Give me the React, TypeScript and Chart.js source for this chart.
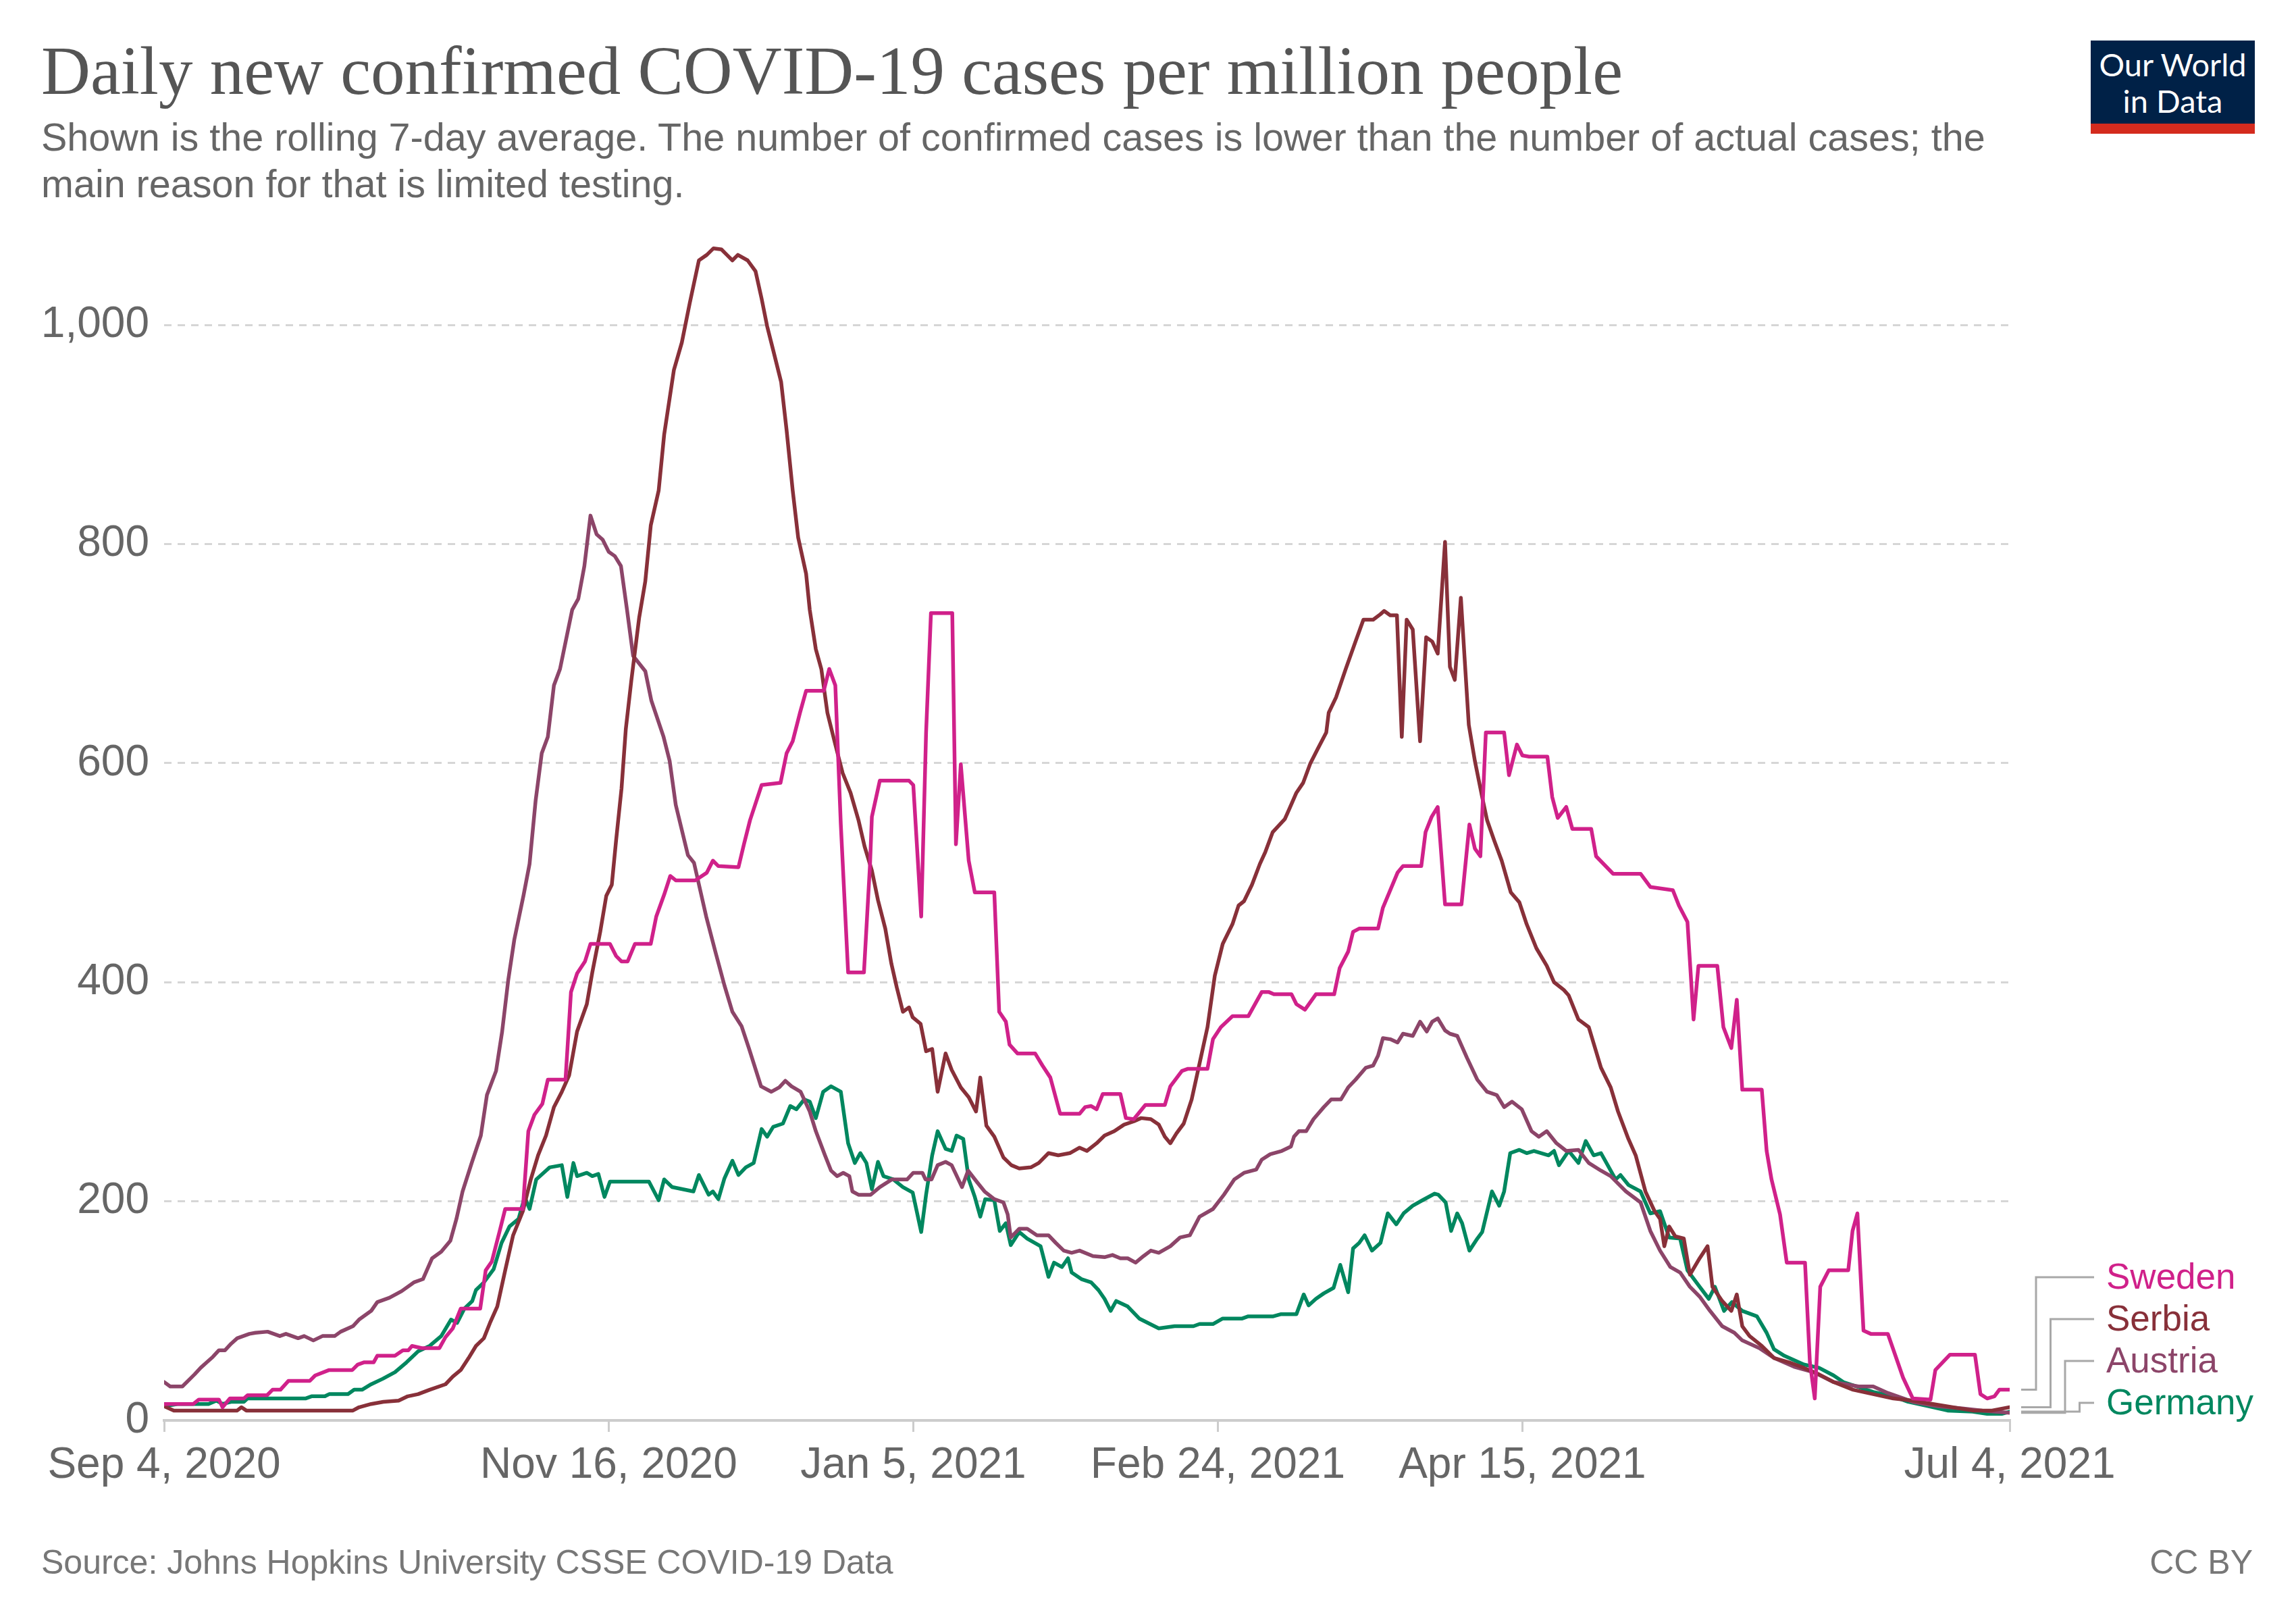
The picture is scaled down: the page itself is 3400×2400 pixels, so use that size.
import React, { useEffect, useRef } from "react";
import { Chart, registerables } from "chart.js";

Chart.register(...registerables);

// Day offsets from Sep 4, 2020
const tickDays = [0, 73, 123, 173, 223, 303];
const tickLabels = ["Sep 4, 2020", "Nov 16, 2020", "Jan 5, 2021", "Feb 24, 2021", "Apr 15, 2021", "Jul 4, 2021"];
const yTicks = [0, 200, 400, 600, 800, 1000];

const countries = ["Sweden", "Serbia", "Austria", "Germany"];
const countryColors = ["#D0218A", "#883039", "#8C4569", "#00875F"];

const sweden: [number, number][] = [
  [0,15],[4.8,15],[5.7,19],[9,19],[9.6,12],[10.8,20],[13.1,20],[13.7,23],[16.9,23],[17.8,28],[19.1,28],[20.4,36],[23.9,36],[24.8,41],[27.1,46],[30.9,46],[31.8,51],[32.8,53],[34.4,53],[35,59],[37.9,59],[39.2,64],[40.1,64],[40.7,68],[42.3,66],[45.2,66],[46.2,76],[47.4,84],[48.7,102],[51.9,102],[52.8,137],[53.8,145],[55.1,173],[56,193],[58.9,193],[59.8,264],[60.8,279],[62.1,289],[63,311],[65.9,311],[66.8,391],[67.8,408],[69.1,419],[70,435],[73.2,435],[74.2,424],[75.1,419],[76.1,419],[77.3,435],[79.9,435],[80.8,460],[82.1,480],[83.1,497],[84,493],[87.2,493],[89.1,500],[90.1,511],[91,506],[94.3,505],[95.2,526],[96.2,548],[98.1,580],[101.2,582],[102.2,609],[103.2,620],[104.4,646],[105.4,666],[108.3,666],[109.2,686],[110.2,671],[111.1,544],[112.3,409],[114.9,409],[115.9,508],[116.2,551],[117.5,584],[122.3,584],[123,580],[124.3,460],[125.1,628],[125.9,737],[129.4,737],[130,526],[130.8,599],[132.1,511],[133.1,482],[136.3,482],[137.1,373],[138.2,364],[138.8,343],[140.1,335],[143,335],[144.2,324],[145.5,313],[147.1,280],[150.3,280],[151.2,286],[152.2,287],[153.1,284],[154.1,298],[157,298],[157.9,276],[159.2,275],[161.1,288],[164.3,288],[165.2,305],[167.1,319],[168.1,321],[171.3,321],[172.2,348],[173.5,359],[175.4,369],[178,369],[180.2,391],[181.4,391],[182.2,389],[185.1,389],[185.9,380],[187.3,375],[189.1,389],[192.1,389],[193,413],[194.4,428],[195.2,446],[196.2,449],[199.3,449],[200.1,468],[202.5,500],[203.4,506],[206.4,506],[207.1,537],[208.1,551],[209.1,560],[210.3,471],[213,471],[214.3,544],[215.2,522],[216.1,515],[217,628],[220,628],[220.8,589],[222.1,617],[223,607],[224.1,606],[227.1,606],[227.9,569],[228.8,550],[230.2,560],[231.2,540],[234.3,540],[235.1,515],[237.9,499],[242.4,499],[244,487],[247.7,484],[248.7,470],[250.1,455],[251.1,366],[251.9,415],[255,415],[256,359],[257.3,340],[258.2,384],[259.1,302],[262.3,302],[263.1,246],[263.9,220],[265.3,188],[266.4,144],[269.4,144],[270.2,53],[271,20],[271.9,122],[273.3,137],[276.5,137],[277.2,173],[278,189],[279,82],[280.2,79],[283,79],[285.5,39],[287.1,20],[290,19],[290.8,46],[293.2,60],[297.3,60],[298.2,24],[299.3,20],[300.5,22],[301.3,28],[303,28]
];

const serbia: [number, number][] = [
  [0,13],[1.6,9],[12,9],[12.7,12],[13.5,9],[31,9],[32,12],[34,15],[36,17],[38.5,18],[40,22],[41.7,24],[43.6,28],[46.2,33],[47.4,40],[48.7,46],[50,57],[51.2,68],[52.5,75],[53.5,89],[54.7,104],[56,137],[57.3,169],[58.9,191],[60.2,220],[61.4,242],[62.7,260],[64,286],[65.3,300],[66.5,315],[67.8,355],[69.4,380],[70.3,409],[71.6,446],[72.6,479],[73.5,489],[74.2,529],[75.1,577],[75.8,631],[76.7,675],[78,733],[79,766],[79.9,817],[81.2,849],[82.1,900],[83.7,959],[85,984],[86.3,1020],[87.8,1059],[89.1,1064],[90.2,1070],[91.5,1069],[92.4,1064],[93.3,1059],[94.2,1064],[95.8,1059],[97.1,1049],[98.1,1024],[99,999],[100,977],[101.3,948],[102.2,904],[103.2,849],[104.1,806],[105.4,773],[106,740],[107,704],[107.9,686],[108.9,646],[110.2,617],[111.4,591],[112.7,573],[114,548],[115,524],[116.2,502],[117.2,475],[118.4,449],[119.4,417],[120.3,395],[121.3,373],[122.3,377],[122.9,368],[124.2,362],[125.1,337],[126.1,339],[127,300],[128.3,335],[129.3,320],[130.8,304],[132.1,295],[133.3,282],[134,313],[135,269],[136.3,259],[137.8,240],[139.1,233],[140.4,230],[142.3,231],[143.6,235],[145.2,244],[146.8,242],[148.7,244],[150.3,249],[151.5,246],[153.1,253],[154.4,260],[156,264],[157.6,270],[159.2,273],[160.4,276],[162,275],[163.3,270],[164.3,259],[165.2,253],[166.2,262],[167.4,271],[168.7,293],[170,326],[171.3,359],[172.5,406],[173.8,435],[175.4,453],[176.4,470],[177.3,474],[178.6,489],[179.9,508],[180.8,519],[182,537],[184,549],[184.8,559],[185.9,573],[187,582],[188.2,600],[189.4,613],[190.8,628],[191.2,646],[192.4,660],[194,686],[195.6,711],[196.9,731],[198.5,731],[199.7,736],[200.3,739],[201.3,735],[202.4,735],[203.2,624],[204,731],[205,722],[206.2,620],[207.2,715],[208.2,711],[209.1,700],[210.3,802],[211.1,688],[211.9,676],[212.9,751],[213.5,697],[214.2,635],[215.2,602],[216.4,569],[217.2,548],[218.4,529],[219.6,511],[221.1,482],[222.5,473],[223.7,453],[225.3,431],[227,415],[228.2,400],[229.8,393],[230.6,388],[232.2,366],[233.9,359],[235.9,322],[237.5,304],[238.7,282],[240.4,257],[241.6,242],[243.2,209],[244.7,191],[245.6,184],[246.3,159],[247.1,177],[248.1,168],[249.5,166],[250.5,133],[252.1,148],[253.4,159],[254.2,122],[255.8,109],[257.3,100],[258.2,115],[259.1,86],[260.3,77],[262.3,68],[264.3,57],[266.8,53],[269.2,48],[271.7,42],[274.1,35],[277.3,28],[280.6,24],[283.9,20],[287.1,18],[290.4,15],[293.6,12],[296.9,9],[300.1,9],[303,12]
];

const austria: [number, number][] = [
  [0,35],[1,31],[3,31],[5,42],[6,48],[7,53],[8,58],[9,64],[10,64],[11,70],[12,75],[14,79],[15,80],[17,81],[19,77],[20,79],[22,75],[23,77],[24.5,73],[26,77],[28,77],[29,81],[31,86],[32,92],[34,100],[35,108],[37,112],[39,118],[41,126],[42.5,129],[44,148],[45.5,154],[47,164],[48,184],[49,209],[50.5,235],[52,260],[53,297],[54.5,319],[55.5,355],[56.5,402],[57.5,439],[59,479],[60,508],[61,566],[62,609],[63,624],[64,671],[65,686],[67,740],[68,750],[69,780],[70,826],[71,809],[72,804],[73,793],[74,789],[75,780],[76,740],[77,698],[79,684],[80,657],[82,624],[83,602],[84,562],[86,516],[87,509],[89,460],[90.5,428],[92,397],[93.3,373],[94.8,360],[96,340],[98,305],[99.7,300],[101,304],[102,310],[103,305],[104.5,300],[106,282],[107,264],[108.5,242],[109.5,228],[110.5,223],[111.5,226],[112.5,223],[113,209],[114,206],[116,206],[117.5,213],[119.5,220],[122,220],[123,226],[124.5,226],[125,220],[126,220],[127,233],[128.3,236],[129.3,233],[131,213],[132,228],[133.4,218],[134.7,209],[136.3,202],[137.8,199],[138.5,188],[139,167],[140.4,175],[141.7,175],[143.3,169],[145.2,169],[146.4,162],[147.7,155],[149,153],[150.3,155],[152.5,150],[154.4,149],[155.7,151],[157,148],[158.2,148],[159.5,144],[160.8,150],[162,155],[163.3,153],[165.2,159],[166.8,167],[168.4,169],[170,186],[172.2,193],[174,206],[175.7,220],[177.3,226],[179.3,229],[180.2,238],[181.6,243],[183.5,246],[185,250],[185.5,259],[186.3,264],[187.5,264],[188.7,275],[190.4,286],[191.6,293],[193.2,293],[194.4,304],[195.6,311],[197.3,322],[198.5,324],[199.3,333],[200.1,349],[201.3,348],[202.5,345],[203.4,353],[205,351],[206.2,364],[207.3,355],[208.2,364],[209.1,367],[210.3,356],[211.1,353],[212.3,351],[213.9,331],[215.6,311],[217.2,300],[218.8,297],[220,286],[221.3,291],[222.9,284],[224.5,264],[225.7,259],[227,264],[228.6,253],[230.2,246],[232.2,247],[233.9,235],[235.9,228],[237.5,223],[240,209],[242.4,199],[244,173],[245.6,155],[247.3,140],[248.9,135],[250.5,122],[252.1,113],[253.8,100],[255.8,86],[257.8,80],[259.1,73],[261.9,66],[264.3,57],[267.6,49],[270.8,44],[274.1,35],[278.2,31],[280.6,31],[283,25],[287.1,17],[291.2,13],[295.2,11],[298.5,9],[303,7]
];

const germany: [number, number][] = [
  [0,13],[2.2,15],[7.3,15],[8.6,18],[9.6,15],[11.1,17],[13.1,17],[13.7,20],[23.2,20],[24.2,22],[26.4,22],[27.1,24],[30.2,24],[31.2,28],[32.5,28],[34,33],[35.9,38],[37.9,44],[39.8,53],[41.7,63],[43.6,68],[45.5,77],[47.1,92],[48.1,89],[49.3,102],[50.6,109],[51.2,119],[52.5,126],[54.1,138],[55.4,162],[56.7,177],[58.2,184],[59.2,204],[60,193],[61.1,220],[62.7,228],[63.3,231],[65.3,233],[66.2,204],[67.2,235],[67.8,223],[69.4,226],[70.3,223],[71.3,225],[72.3,204],[73.2,218],[74.5,218],[79.6,218],[81.2,201],[82.1,220],[83.4,213],[86.9,209],[87.8,224],[89.4,206],[90.1,209],[91,202],[92,221],[93.3,237],[94.3,224],[95.5,231],[96.8,235],[98.1,266],[99,259],[100,268],[101.6,271],[102.8,287],[103.8,284],[105.1,293],[106,291],[107,276],[108.2,300],[109.5,305],[111.1,300],[112.3,253],[113.4,235],[114.3,244],[115.3,235],[116.2,211],[117.2,236],[118.1,223],[119.7,220],[121.3,213],[122.9,208],[124.3,172],[125.1,206],[126.1,242],[127,264],[128.3,248],[129.3,246],[130.1,260],[131.2,257],[132.1,220],[133.1,204],[134,186],[134.8,202],[136.3,201],[137.2,173],[138.2,180],[139,160],[140.4,172],[141.7,166],[143.9,159],[145.2,131],[146.1,144],[147.4,140],[148.4,148],[149,135],[150.6,129],[152.2,126],[153.4,119],[154.4,111],[155.4,100],[156.3,109],[158.2,104],[160.1,93],[163.3,84],[165.9,86],[169,86],[170,88],[172.2,88],[173.8,93],[177,93],[178,95],[182.1,95],[183.4,97],[185.9,97],[187.1,115],[187.9,105],[189.1,111],[190.4,116],[192,121],[193.1,142],[194.4,117],[195.2,157],[196.2,162],[197.1,169],[198.3,155],[199.7,162],[200.9,189],[202.3,179],[203.5,189],[205,196],[206.6,201],[208.6,207],[209.2,206],[210.4,199],[211.3,173],[212.3,189],[213.1,180],[214.3,155],[215.6,166],[216.4,172],[218,209],[219.2,196],[220,209],[221,244],[222.5,247],[223.7,244],[224.9,246],[227.3,242],[228.2,246],[229,233],[230.6,246],[232.2,235],[233.4,255],[234.7,242],[235.9,244],[238.3,220],[239.1,224],[240.4,215],[242.4,209],[244,189],[245.6,191],[247.1,167],[248.9,166],[250.1,137],[252.1,122],[253.6,111],[254.6,122],[256.1,100],[257.4,108],[259.1,100],[261.5,95],[263.1,80],[264.3,65],[266,59],[269.2,51],[271.7,48],[274.1,41],[275.7,35],[280.6,26],[283.9,22],[286.3,17],[289.6,13],[292.8,9],[296.9,8],[299.3,6],[301.7,6],[303,8]
];

const seriesData = [sweden, serbia, austria, germany];

const SANS = '"Liberation Sans", Arial, Helvetica, sans-serif';

const legendPlugin = {
  id: "lineLabels",
  afterDatasetsDraw(chart: any) {
    const { ctx, chartArea, scales } = chart;
    const y = scales.y;
    const right = chartArea.right;
    const bottomLabelY = y.getPixelForValue(0) - 26;
    const spacing = 62;
    const n = countries.length;
    ctx.save();
    countries.forEach((name, i) => {
      const data = seriesData[i];
      const last = data[data.length - 1][1];
      const yEnd = y.getPixelForValue(last);
      const labelY = bottomLabelY - (n - 1 - i) * spacing;
      const elbowX = right + 39 + i * 21.5;
      ctx.strokeStyle = "#a8a8a8";
      ctx.lineWidth = 3;
      ctx.beginPath();
      ctx.moveTo(right + 17, yEnd);
      ctx.lineTo(elbowX, yEnd);
      ctx.lineTo(elbowX, labelY);
      ctx.lineTo(right + 125, labelY);
      ctx.stroke();
      ctx.fillStyle = countryColors[i];
      ctx.font = `53px ${SANS}`;
      ctx.textAlign = "left";
      ctx.textBaseline = "alphabetic";
      ctx.fillText(name, right + 143, labelY + 17);
    });
    ctx.restore();
  },
};

function CovidChart() {
  const ref = useRef<HTMLCanvasElement | null>(null);
  useEffect(() => {
    if (!ref.current) return;
    const chart = new Chart(ref.current, {
      type: "line",
      data: {
        datasets: countries.map((name, i) => ({
          label: name,
          data: seriesData[i].map(([x, v]) => ({ x, y: v })),
          borderColor: countryColors[i],
          backgroundColor: countryColors[i],
          borderWidth: 5.5,
          pointRadius: 0,
          pointHoverRadius: 0,
          tension: 0,
          borderJoinStyle: "round" as const,
          borderCapStyle: "round" as const,
          fill: false,
        })),
      },
      options: {
        animation: false,
        responsive: false,
        devicePixelRatio: 1,
        layout: { padding: { top: 319, right: 424, left: 0, bottom: 0 } },
        plugins: {
          legend: { display: false },
          tooltip: { enabled: false },
          title: { display: false },
        },
        scales: {
          x: {
            type: "linear",
            min: 0,
            max: 303,
            afterBuildTicks: (scale: any) => {
              scale.ticks = tickDays.map((v) => ({ value: v }));
            },
            afterFit: (scale: any) => {
              scale.height = 297;
            },
            ticks: {
              autoSkip: false,
              maxRotation: 0,
              minRotation: 0,
              padding: 12,
              color: "#666",
              font: { family: SANS, size: 64 },
              callback: (value: any) => {
                const idx = tickDays.indexOf(Number(value));
                return idx >= 0 ? tickLabels[idx] : "";
              },
            },
            grid: {
              drawOnChartArea: false,
              drawTicks: true,
              tickLength: 17,
              color: "#cccccc",
              lineWidth: 3,
            },
            border: { display: true, color: "#cccccc", width: 4 },
          },
          y: {
            type: "linear",
            min: 0,
            max: 1100,
            afterBuildTicks: (scale: any) => {
              scale.ticks = yTicks.map((v) => ({ value: v }));
            },
            afterFit: (scale: any) => {
              scale.width = 243;
            },
            ticks: {
              padding: 22,
              color: "#666",
              font: { family: SANS, size: 64 },
              callback: (value: any) => Number(value).toLocaleString("en-US"),
            },
            grid: {
              drawTicks: false,
              color: "#d6d6d6",
              lineWidth: 3,
            },
            border: { display: false, dash: [11, 9] },
          },
        },
      },
      plugins: [legendPlugin],
    });
    return () => chart.destroy();
  }, []);
  return (
    <canvas
      ref={ref}
      width={3400}
      height={2400}
      style={{ position: "absolute", left: 0, top: 0, width: 3400, height: 2400 }}
    />
  );
}

export default function App() {
  useEffect(() => {
    document.body.style.margin = "0";
  }, []);
  return (
    <div style={{ position: "absolute", left: 0, top: 0, width: 3400, height: 2400, background: "#fff", overflow: "hidden" }}>
      <CovidChart />
      <div
        style={{
          position: "absolute", left: 61, top: 55, fontFamily: '"Liberation Serif", "Times New Roman", serif',
          fontSize: 101, lineHeight: "101px", color: "#555", whiteSpace: "nowrap",
        }}
      >
        Daily new confirmed COVID-19 cases per million people
      </div>
      <div
        style={{
          position: "absolute", left: 61, top: 169, fontFamily: SANS, fontSize: 57.5, lineHeight: "69px",
          color: "#666", whiteSpace: "nowrap",
        }}
      >
        <div>Shown is the rolling 7-day average. The number of confirmed cases is lower than the number of actual cases; the</div>
        <div>main reason for that is limited testing.</div>
      </div>
      <div style={{ position: "absolute", left: 3096, top: 60, width: 243, height: 138 }}>
        <div
          style={{
            height: 123, background: "#002147", color: "#fff", fontFamily: "Lato, " + SANS, fontSize: 47,
            lineHeight: "54px", textAlign: "center", paddingTop: 8, boxSizing: "border-box",
          }}
        >
          <div>Our World</div>
          <div>in Data</div>
        </div>
        <div style={{ height: 15, background: "#D42B1E" }} />
      </div>
      <div
        style={{
          position: "absolute", left: 61, top: 2288, fontFamily: SANS, fontSize: 50, lineHeight: "50px",
          color: "#777", whiteSpace: "nowrap",
        }}
      >
        Source: Johns Hopkins University CSSE COVID-19 Data
      </div>
      <div
        style={{
          position: "absolute", right: 64, top: 2288, fontFamily: SANS, fontSize: 50, lineHeight: "50px",
          color: "#777", whiteSpace: "nowrap",
        }}
      >
        CC BY
      </div>
    </div>
  );
}
